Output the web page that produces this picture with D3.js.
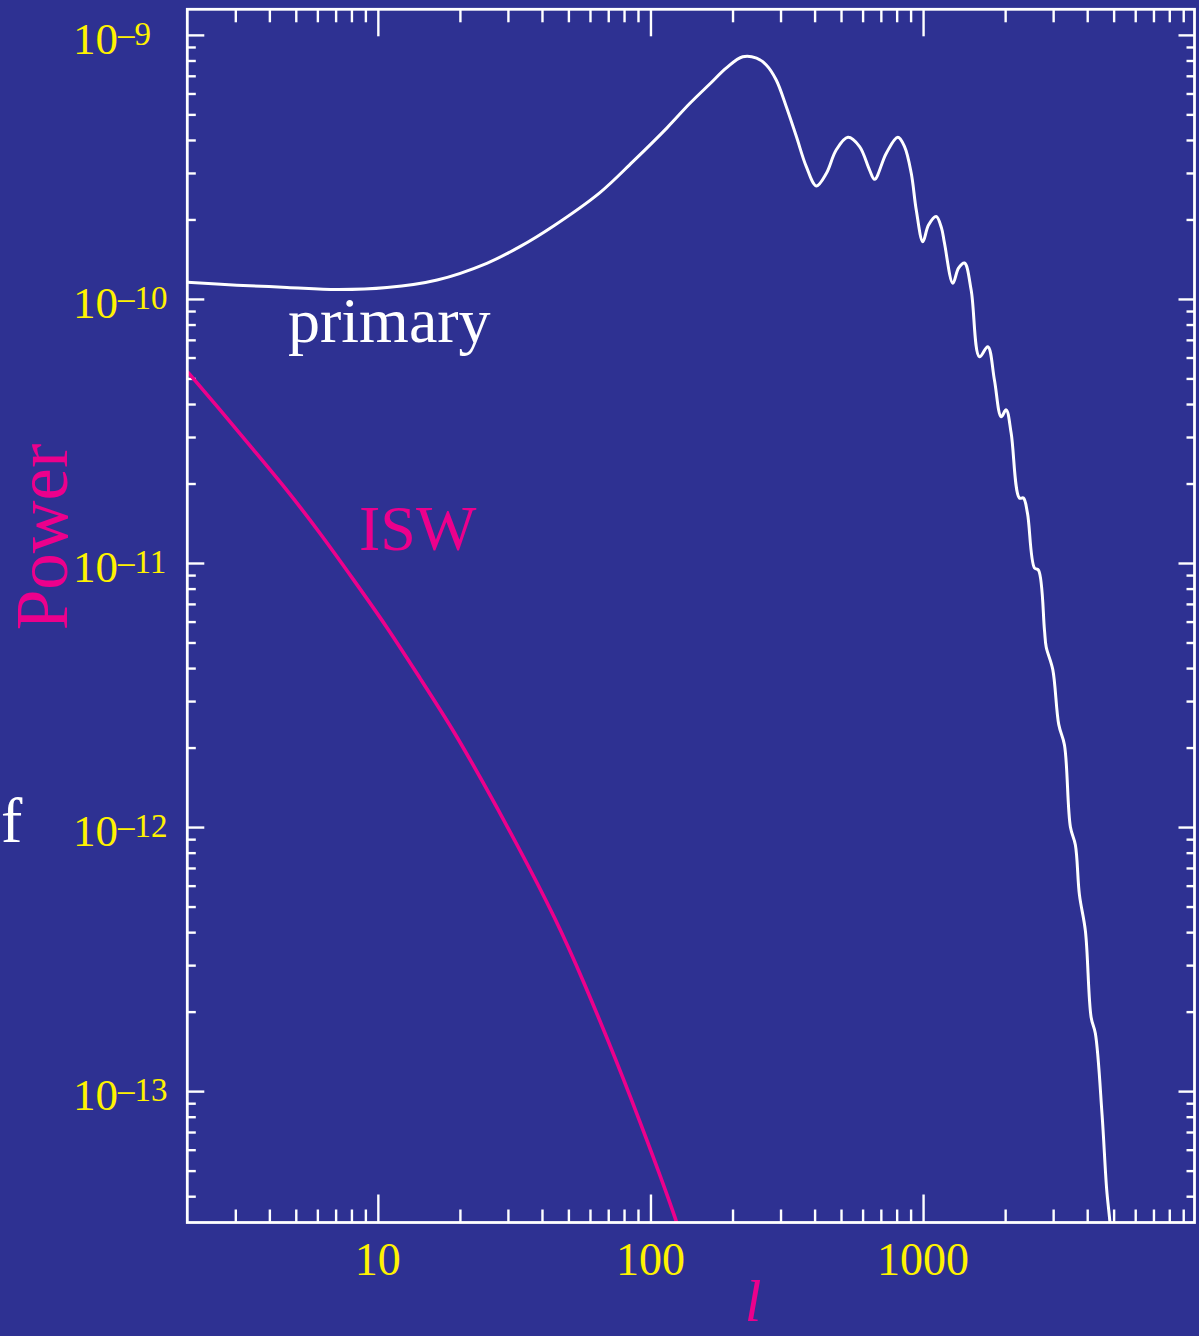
<!DOCTYPE html>
<html>
<head>
<meta charset="utf-8">
<script src="https://cdn.jsdelivr.net/npm/d3@7"></script>
<style>
  html, body { margin: 0; padding: 0; background: #2e3192; }
  svg { display: block; }
</style>
</head>
<body>
<svg id="chart" width="1199" height="1336"></svg>
<script>
// ---- data ----
const primaryL = [2, 3.04, 4.64, 7.08, 10.8, 16.5, 25.1, 33.2, 44.1, 65.1, 86, 115, 139, 165, 190, 218, 245, 266, 289, 315, 343, 373, 406, 442, 480, 530, 585, 636, 664, 733, 808, 855, 905, 944, 998, 1047, 1117, 1168, 1198, 1286, 1349, 1419, 1501, 1610, 1727, 1827, 1934, 2017, 2104, 2256, 2334, 2415, 2562, 2650, 2788, 2829, 2990, 3146, 3301, 3471, 3620, 3745, 3940, 4134, 4286, 4536, 4714, 4852, 4950];
const primaryPower = [1.156e-10, 1.128e-10, 1.106e-10, 1.085e-10, 1.104e-10, 1.180e-10, 1.365e-10, 1.578e-10, 1.890e-10, 2.523e-10, 3.304e-10, 4.446e-10, 5.483e-10, 6.516e-10, 7.499e-10, 8.260e-10, 8.166e-10, 7.691e-10, 6.761e-10, 5.346e-10, 4.121e-10, 3.170e-10, 2.679e-10, 2.992e-10, 3.664e-10, 4.093e-10, 3.776e-10, 3.083e-10, 2.838e-10, 3.565e-10, 4.093e-10, 3.776e-10, 2.992e-10, 2.173e-10, 1.648e-10, 1.905e-10, 2.051e-10, 1.858e-10, 1.629e-10, 1.146e-10, 1.309e-10, 1.368e-10, 1.081e-10, 6.039e-11, 6.592e-11, 4.932e-11, 3.581e-11, 3.802e-11, 3.105e-11, 1.762e-11, 1.762e-11, 1.545e-11, 9.572e-12, 9.397e-12, 5.572e-12, 4.808e-12, 3.954e-12, 2.443e-12, 2.046e-12, 1.000e-12, 8.551e-13, 5.546e-13, 4.036e-13, 1.905e-13, 1.652e-13, 8.110e-14, 4.256e-14, 3.141e-14, 2.239e-14];

const iswL = [2, 2.64, 3.50, 4.64, 6.15, 8.15, 10.79, 14.29, 18.95, 24.3, 32.3, 45.2, 56.6, 75.0, 99.3, 124.5, 130];
const iswPower = [5.309e-11, 3.802e-11, 2.679e-11, 1.892e-11, 1.297e-11, 8.630e-12, 5.741e-12, 3.656e-12, 2.328e-12, 1.479e-12, 8.670e-13, 4.446e-13, 2.630e-13, 1.309e-13, 6.152e-14, 3.243e-14, 2.754e-14];

const xDomain = [2, 9900];
const yDomain = [3.18e-14, 1.25e-9];
const xMajorTicks = [10, 100, 1000];
const xTickLabels = ["10", "100", "1000"];
const yMajorTicks = [1e-9, 1e-10, 1e-11, 1e-12, 1e-13];
const yTickExponents = ["\u20139", "\u201310", "\u201311", "\u201312", "\u201313"];
const seriesLabels = ["primary", "ISW"];

// ---- layout ----
const L = 187.3, R = 1194.5, T = 9.3, B = 1222.5;
const BG = "#2e3192", PINK = "#ec008c", YELLOW = "#fff200", WHITE = "#ffffff";
const SERIF = "'Liberation Serif', 'Times New Roman', serif";

const svg = d3.select("#chart");
svg.append("rect").attr("width", 1199).attr("height", 1336).attr("fill", BG);

const x = d3.scaleLog().domain(xDomain).range([L, R]);
const y = d3.scaleLog().domain(yDomain).range([B, T]);

function minorTicks(scale, lo, hi) {
  const out = [];
  const [d0, d1] = scale.domain();
  for (let e = lo; e <= hi; e++) {
    for (let m = 2; m <= 9; m++) {
      const v = m * Math.pow(10, e);
      if (v > Math.min(d0, d1) && v < Math.max(d0, d1)) out.push(v);
    }
  }
  return out;
}
const xMinor = minorTicks(x, 0, 3);
const yMinor = minorTicks(y, -14, -10);

function styleAxis(g) {
  g.select(".domain").remove();
  g.selectAll(".tick line").attr("stroke", WHITE).attr("stroke-width", 2.4);
}

// clip
svg.append("clipPath").attr("id", "plotclip")
  .append("rect").attr("x", L).attr("y", T).attr("width", R - L).attr("height", B - T);

// ---- axes ticks (inward) ----
svg.append("g").attr("transform", `translate(0,${B})`)
  .call(d3.axisBottom(x).tickValues(xMajorTicks).tickSize(-28).tickSizeOuter(0).tickFormat(""))
  .call(styleAxis);
svg.append("g").attr("transform", `translate(0,${B})`)
  .call(d3.axisBottom(x).tickValues(xMinor).tickSize(-13).tickSizeOuter(0).tickFormat(""))
  .call(styleAxis);
svg.append("g").attr("transform", `translate(0,${T})`)
  .call(d3.axisTop(x).tickValues(xMajorTicks).tickSize(-27).tickSizeOuter(0).tickFormat(""))
  .call(styleAxis);
svg.append("g").attr("transform", `translate(0,${T})`)
  .call(d3.axisTop(x).tickValues(xMinor).tickSize(-13).tickSizeOuter(0).tickFormat(""))
  .call(styleAxis);
svg.append("g").attr("transform", `translate(${L},0)`)
  .call(d3.axisLeft(y).tickValues(yMajorTicks).tickSize(-17).tickSizeOuter(0).tickFormat(""))
  .call(styleAxis);
svg.append("g").attr("transform", `translate(${L},0)`)
  .call(d3.axisLeft(y).tickValues(yMinor).tickSize(-8.5).tickSizeOuter(0).tickFormat(""))
  .call(styleAxis);
svg.append("g").attr("transform", `translate(${R},0)`)
  .call(d3.axisRight(y).tickValues(yMajorTicks).tickSize(-16).tickSizeOuter(0).tickFormat(""))
  .call(styleAxis);
svg.append("g").attr("transform", `translate(${R},0)`)
  .call(d3.axisRight(y).tickValues(yMinor).tickSize(-8).tickSizeOuter(0).tickFormat(""))
  .call(styleAxis);

// ---- curves ----
const primaryLine = d3.line()
  .x(d => x(d[0]))
  .y(d => y(d[1]))
  .curve(d3.curveCatmullRom.alpha(0.5));
const iswLine = d3.line()
  .x(d => x(d[0]))
  .y(d => y(d[1]))
  .curve(d3.curveBasis);

const plot = svg.append("g").attr("clip-path", "url(#plotclip)");
plot.append("path")
  .datum(iswL.map((l, i) => [l, iswPower[i]]))
  .attr("d", iswLine)
  .attr("fill", "none").attr("stroke", PINK).attr("stroke-width", 3.6)
  .attr("stroke-linejoin", "round");
plot.append("path")
  .datum(primaryL.map((l, i) => [l, primaryPower[i]]))
  .attr("d", primaryLine)
  .attr("fill", "none").attr("stroke", WHITE).attr("stroke-width", 3)
  .attr("stroke-linejoin", "round");

// frame
svg.append("rect").attr("x", L).attr("y", T).attr("width", R - L).attr("height", B - T)
  .attr("fill", "none").attr("stroke", WHITE).attr("stroke-width", 2.8);

// ---- tick labels ----
yMajorTicks.forEach((v, i) => {
  const t = svg.append("text")
    .attr("x", 73).attr("y", y(v) + 19)
    .attr("font-family", SERIF).attr("font-size", 45).attr("fill", YELLOW);
  t.append("tspan").text("10");
  t.append("tspan").attr("font-size", 33).attr("dy", -9).text(yTickExponents[i]);
});
xMajorTicks.forEach((v, i) => {
  svg.append("text")
    .attr("x", x(v)).attr("y", 1275)
    .attr("text-anchor", "middle")
    .attr("font-family", SERIF).attr("font-size", 46).attr("fill", YELLOW)
    .text(xTickLabels[i]);
});

// ---- axis titles ----
svg.append("text")
  .attr("transform", `translate(67,537) rotate(-90)`)
  .attr("text-anchor", "middle")
  .attr("font-family", SERIF).attr("font-size", 73).attr("fill", PINK)
  .text("Power");
svg.append("text")
  .attr("x", 753).attr("y", 1321)
  .attr("text-anchor", "middle")
  .attr("font-family", SERIF).attr("font-style", "italic").attr("font-size", 60).attr("fill", PINK)
  .text("l");
svg.append("text")
  .attr("x", 1).attr("y", 842)
  .attr("font-family", SERIF).attr("font-size", 64).attr("fill", WHITE)
  .text("f");

// ---- series labels ----
svg.append("text")
  .attr("x", 288).attr("y", 342)
  .attr("font-family", SERIF).attr("font-size", 64).attr("fill", WHITE)
  .text(seriesLabels[0]);
svg.append("text")
  .attr("x", 359).attr("y", 550)
  .attr("font-family", SERIF).attr("font-size", 64).attr("fill", PINK)
  .text(seriesLabels[1]);
</script>
</body>
</html>
